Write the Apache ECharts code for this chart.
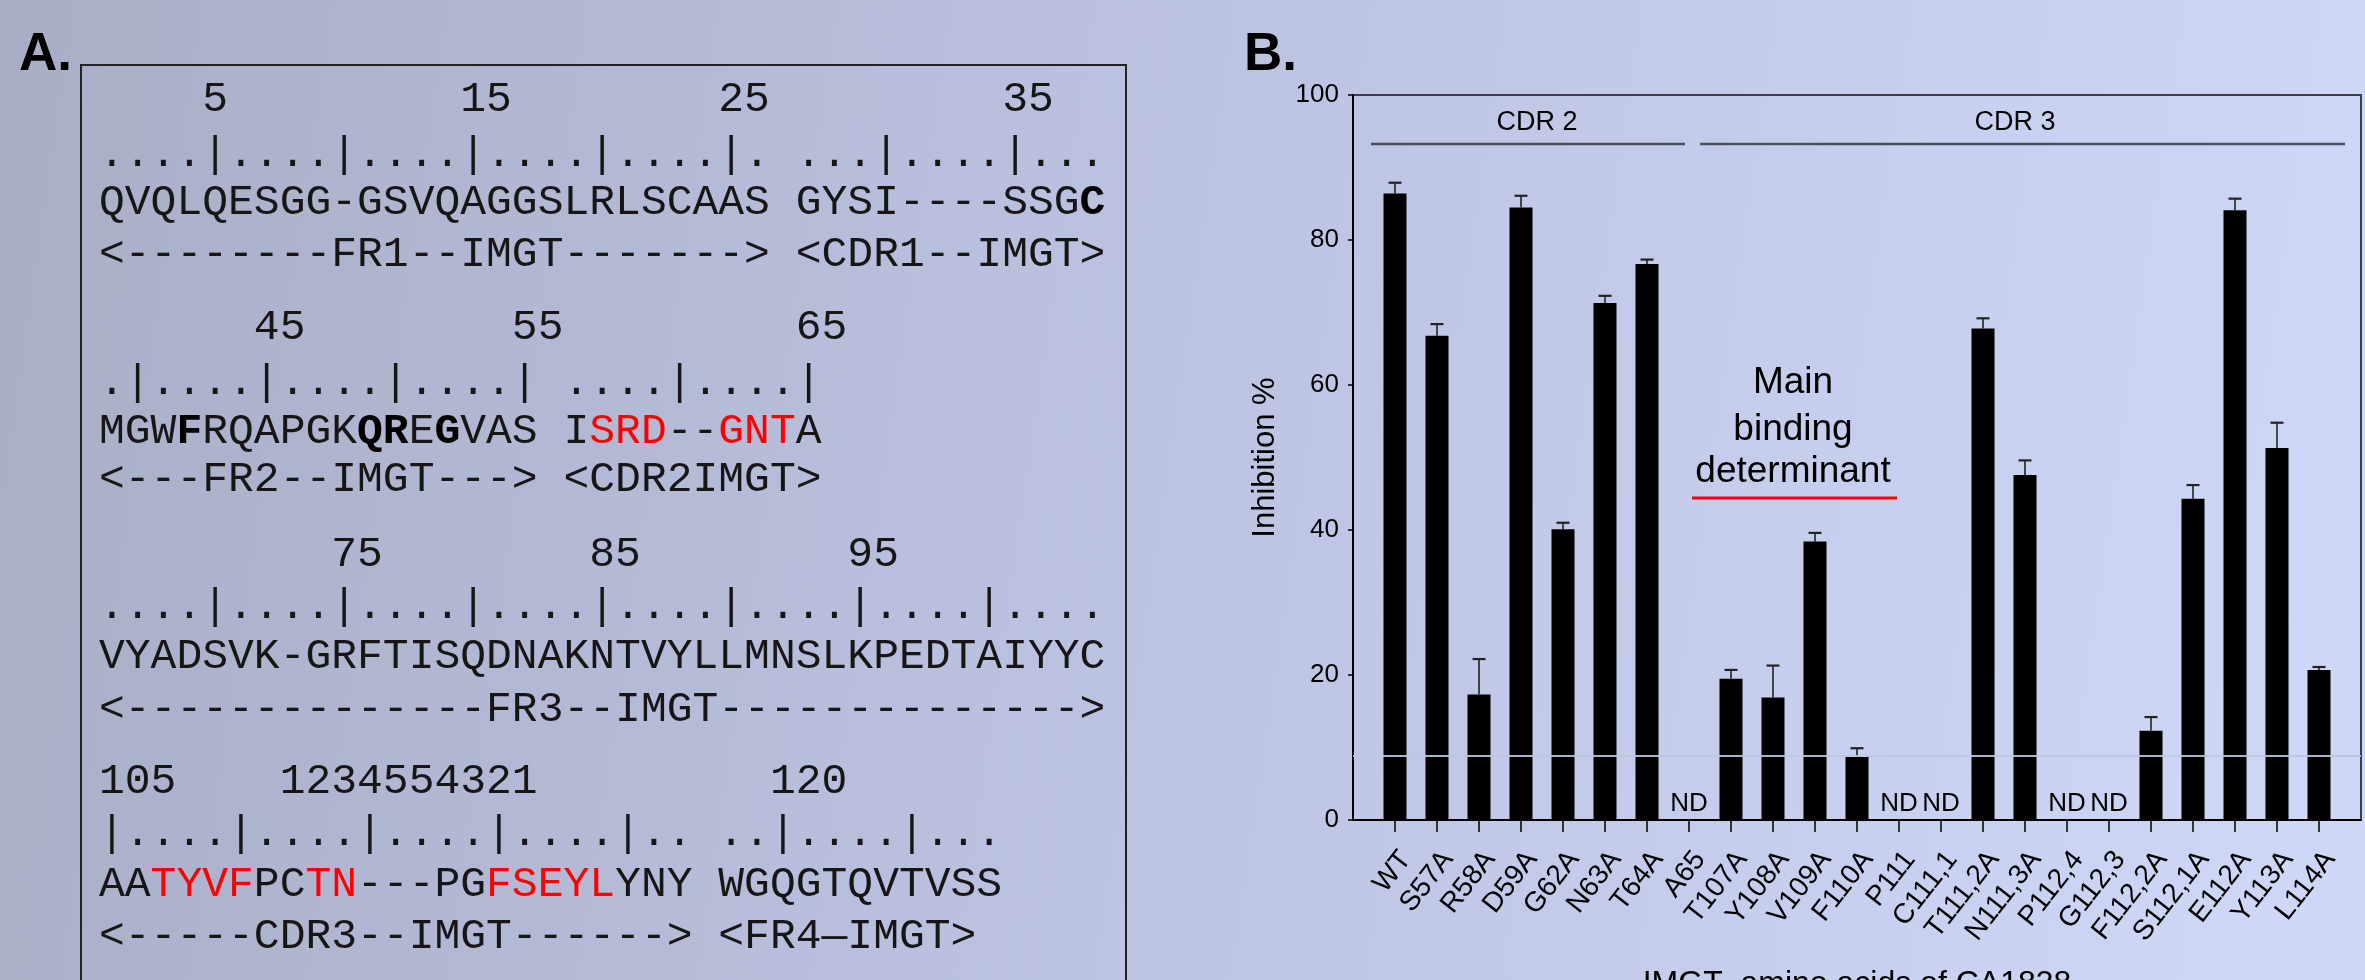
<!DOCTYPE html>
<html><head><meta charset="utf-8">
<script src="https://cdn.jsdelivr.net/npm/echarts@6/dist/echarts.min.js"></script>
<style>html,body{margin:0;padding:0;background:#bcc3e0;} #c{width:2365px;height:980px;}</style>
</head><body><div id="c"></div>
<script>
// ---------- DATA ----------
const categories = ['WT','S57A','R58A','D59A','G62A','N63A','T64A','A65','T107A','Y108A','V109A','F110A','P111','C111,1','T111,2A','N111,3A','P112,4','G112,3','F112,2A','S112,1A','E112A','Y113A','L114A'];
const inhibition = [86.4,66.8,17.3,84.5,40.1,71.3,76.7,null,19.5,16.9,38.4,8.7,null,null,67.8,47.6,null,null,12.3,44.3,84.1,51.3,20.7];
const errorPlus  = [1.5,1.6,4.9,1.6,0.9,1.0,0.6,null,1.2,4.4,1.2,1.2,null,null,1.4,2.0,null,null,1.9,1.9,1.6,3.5,0.4];
const yTicks = [0,20,40,60,80,100];
const groupLabels = ['CDR 2','CDR 3'];
const noteLines = ['Main','binding','determinant'];
const xAxisTitle = 'IMGT- amino acids of CA1838';
const yAxisTitle = 'Inhibition %';
const ndText = 'ND';
// sequence panel: each line is a list of [text, style] segments (n normal, b bold, r red)
const seqLines = [
  [['    5         15        25         35','n']],
  [['....|....|....|....|....|. ...|....|...','n']],
  [['QVQLQESGG-GSVQAGGSLRLSCAAS GYSI----SSG','n'],['C','b']],
  [['<--------FR1--IMGT-------> <CDR1--IMGT>','n']],
  [['      45        55         65','n']],
  [['.|....|....|....| ....|....|','n']],
  [['MGW','n'],['F','b'],['RQAPGK','n'],['QR','b'],['E','n'],['G','b'],['VAS I','n'],['SRD','r'],['--','n'],['GNT','r'],['A','n']],
  [['<---FR2--IMGT---> <CDR2IMGT>','n']],
  [['         75        85        95','n']],
  [['....|....|....|....|....|....|....|....','n']],
  [['VYADSVK-GRFTISQDNAKNTVYLLMNSLKPEDTAIYYC','n']],
  [['<--------------FR3--IMGT-------------->','n']],
  [['105    1234554321         120','n']],
  [['|....|....|....|....|.. ..|....|...','n']],
  [['AA','n'],['TYVF','r'],['PC','n'],['TN','r'],['---PG','n'],['FSEYL','r'],['YNY WGQGTQVTVSS','n']],
  [['<-----CDR3--IMGT------> <FR4\u2014IMGT>','n']]
];
const panelLabels = ['A.','B.'];

// ---------- LAYOUT ----------
const W = 2365, H = 980;
const chart = echarts.init(document.getElementById('c'), null, {width: W, height: H, renderer: 'canvas'});
const sans = '"Liberation Sans", Arial, Helvetica, sans-serif';
const mono = '"Liberation Mono", "Courier New", monospace';
const seqY = [100,155,203,255, 328,383,432,480, 555,607,657,710, 782,834,885,937];
const monoSize = 43;
const rich = {
  n: {fontFamily: mono, fontSize: monoSize, fill: '#161616'},
  b: {fontFamily: mono, fontSize: monoSize, fill: '#000', fontWeight: 'bold'},
  r: {fontFamily: mono, fontSize: monoSize, fill: '#ff0000'}
};
const graphics = [];
graphics.push({type:'rect', shape:{x:81, y:65, width:1045, height:1000}, style:{fill:'none', stroke:'#222', lineWidth:2}, silent:true});
graphics.push({type:'text', x:19, y:55, style:{text:panelLabels[0], font:'bold 53px ' + sans, fill:'#000', verticalAlign:'middle'}});
graphics.push({type:'text', x:1244, y:55, style:{text:panelLabels[1], font:'bold 53px ' + sans, fill:'#000', verticalAlign:'middle'}});
seqLines.forEach((segs, i) => {
  const txt = segs.map(s => '{' + s[1] + '|' + s[0] + '}').join('');
  graphics.push({type:'text', x:99, y:seqY[i], style:{text:txt, rich:rich, fontFamily:mono, fontSize:monoSize, fill:'#161616', verticalAlign:'middle', align:'left'}});
});
// group annotations
graphics.push({type:'text', x:1537, y:123, style:{text:groupLabels[0], font:'27px ' + sans, fill:'#000', align:'center', verticalAlign:'middle'}});
graphics.push({type:'line', shape:{x1:1371, y1:144, x2:1685, y2:144}, style:{stroke:'#4a4f5e', lineWidth:2.5}});
graphics.push({type:'text', x:2015, y:123, style:{text:groupLabels[1], font:'27px ' + sans, fill:'#000', align:'center', verticalAlign:'middle'}});
graphics.push({type:'line', shape:{x1:1700, y1:144, x2:2345, y2:144}, style:{stroke:'#4a4f5e', lineWidth:2.5}});
const noteY = [383, 430, 472];
noteLines.forEach((t, i) => {
  graphics.push({type:'text', x:1793, y:noteY[i], style:{text:t, font:'37px ' + sans, fill:'#000', align:'center', verticalAlign:'middle'}});
});
graphics.push({type:'line', shape:{x1:1692, y1:498, x2:1897, y2:498}, style:{stroke:'#ff0000', lineWidth:3}});
// faint seam line across the plot
graphics.push({type:'line', z:100, shape:{x1:1353, y1:756, x2:2361, y2:756}, style:{stroke:'rgba(190,198,225,0.9)', lineWidth:2}, silent:true});

const padded = [''].concat(categories, ['']);
const barData = ['-'].concat(inhibition.map(v => v === null
  ? {value: 0, label: {show: true, formatter: ndText, position: 'top', distance: 3, fontSize: 26, color: '#000', fontFamily: sans}}
  : v), ['-']);
const errData = [];
inhibition.forEach((v, i) => { if (v !== null) errData.push([i + 1, v, v + errorPlus[i]]); });

const option = {
  animation: false,
  backgroundColor: {type:'linear', x:0, y:0, x2:1, y2:0.35, colorStops:[
    {offset:0, color:'#a9aec6'}, {offset:0.5, color:'#bcc3e1'}, {offset:1, color:'#ced7f6'}]},
  textStyle: {fontFamily: sans},
  grid: {left:1353, right:4, top:95, bottom:160, show:true, borderColor:'#3c3f48', borderWidth:2,
         backgroundColor:'transparent', containLabel:false, outerBoundsMode:'none'},
  xAxis: {
    type:'category', data: padded, boundaryGap:false,
    axisLine:{show:true, lineStyle:{color:'#000', width:2}},
    axisTick:{show:true, length:12, interval:(idx) => idx > 0 && idx < padded.length - 1, lineStyle:{color:'#000', width:1.5}},
    axisLabel:{interval:0, rotate:52, margin:26, verticalAlign:'top', fontSize:28, color:'#000', fontFamily:sans},
    splitLine:{show:false},
    name: xAxisTitle, nameLocation:'middle', nameGap:148,
    nameTextStyle:{fontSize:32, color:'#000', fontFamily:sans}
  },
  yAxis: {
    type:'value', min: yTicks[0], max: yTicks[yTicks.length-1], interval: yTicks[1] - yTicks[0],
    axisLine:{show:true, lineStyle:{color:'#000', width:2}},
    axisTick:{show:true, length:5, lineStyle:{color:'#000', width:1.5}},
    axisLabel:{fontSize:26, color:'#000', margin:14, fontFamily:sans},
    splitLine:{show:false},
    name: yAxisTitle, nameLocation:'middle', nameRotate:90, nameGap:72,
    nameTextStyle:{fontSize:31, color:'#000', fontFamily:sans}
  },
  series: [
    {type:'bar', data: barData, barWidth:23, itemStyle:{color:'#000'}, z:2},
    {type:'custom', data: errData, encode:{x:0, y:[1,2]}, z:3,
     renderItem: (params, api) => {
       const x = api.value(0);
       const lo = api.coord([x, api.value(1)]);
       const hi = api.coord([x, api.value(2)]);
       return {type:'group', children:[
         {type:'line', shape:{x1:lo[0], y1:lo[1], x2:hi[0], y2:hi[1]}, style:{stroke:'#222', lineWidth:1.6}},
         {type:'line', shape:{x1:hi[0]-6.5, y1:hi[1], x2:hi[0]+6.5, y2:hi[1]}, style:{stroke:'#222', lineWidth:2.2}}
       ]};
     }}
  ],
  graphic: graphics
};
chart.setOption(option);
</script>
</body></html>
